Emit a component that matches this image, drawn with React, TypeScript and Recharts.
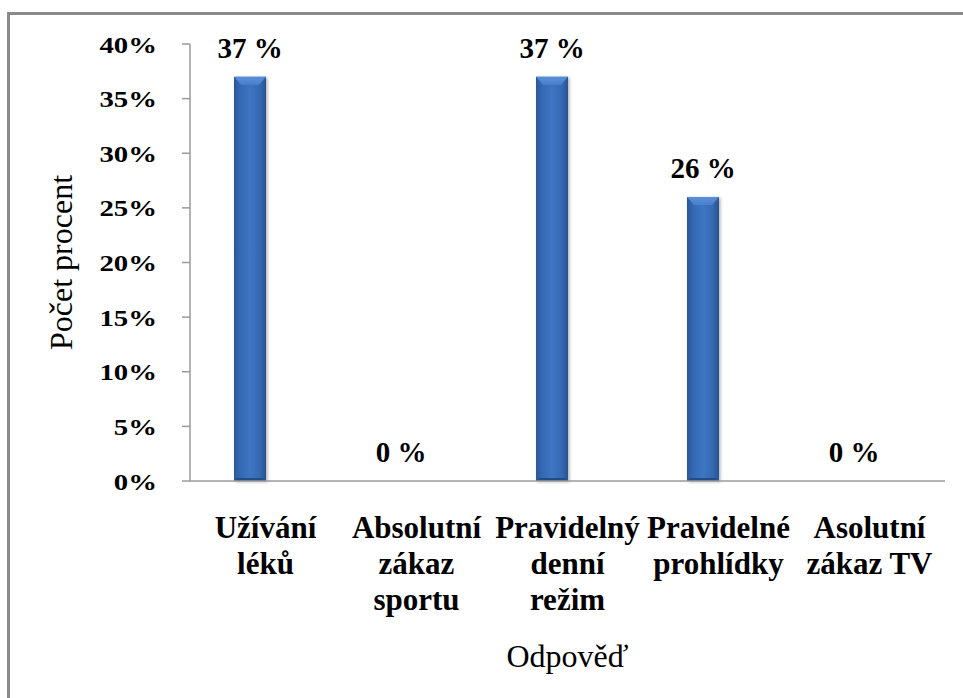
import React from 'react';
import { BarChart, Bar, XAxis, YAxis, LabelList, Label } from 'recharts';

// Answers (line breaks as printed under the axis)
const categories = [
  'Užívání\nléků',
  'Absolutní\nzákaz\nsportu',
  'Pravidelný\ndenní\nrežim',
  'Pravidelné\nprohlídky',
  'Asolutní\nzákaz TV',
];
const percentValues = [37, 0, 37, 26, 0];
const yTicks = [0, 5, 10, 15, 20, 25, 30, 35, 40];

const yAxisTitle = 'Počet procent';
const xAxisTitle = 'Odpověď';

const data = categories.map((name, i) => ({ name, value: percentValues[i] }));

const SERIF = "'Liberation Serif', 'Times New Roman', serif";
const AXIS_GRAY = '#9a9a9a';
const BAR_SIZE = 32;
// bars sit left of the category centre (old two-slot cluster layout)
const BAR_SHIFT = -16;

function CylinderBar(props: any) {
  const { x, y, width, height } = props;
  if (!height || height <= 0) return null;
  const bx = x + BAR_SHIFT;
  const bev = 7;
  return (
    <g filter="url(#barShadow)">
      <rect x={bx} y={y} width={width} height={height} fill="url(#barBody)" />
      <polygon
        points={`${bx},${y} ${bx + width},${y} ${bx + width - bev},${y + bev + 1} ${bx + bev},${y + bev + 1}`}
        fill="url(#barTop)"
      />
      <polygon
        points={`${bx},${y + height} ${bx + width},${y + height} ${bx + width - 3},${y + height - 3} ${bx + 3},${y + height - 3}`}
        fill="#244d86"
      />
    </g>
  );
}

function ValueLabel(props: any) {
  const { x, y, width, value } = props;
  return (
    <text
      x={x + BAR_SHIFT + width / 2}
      y={y - 19}
      textAnchor="middle"
      fontFamily={SERIF}
      fontWeight="bold"
      fontSize={29}
      fill="#000"
    >
      {`${value} %`}
    </text>
  );
}

function CategoryTick(props: any) {
  const { x, y, payload } = props;
  const lines = String(payload.value).split('\n');
  return (
    <g>
      {lines.map((line, i) => (
        <text
          key={i}
          x={x}
          y={y + 57 + i * 36}
          textAnchor="middle"
          fontFamily={SERIF}
          fontWeight="bold"
          fontSize={31}
          fill="#000"
        >
          {line}
        </text>
      ))}
    </g>
  );
}

function PercentTick(props: any) {
  const { x, y, payload } = props;
  return (
    <g transform={`translate(${x},${y + 8.5}) scale(1.2,1)`}>
      <text x={0} y={0} textAnchor="end" fontFamily={SERIF} fontWeight="bold" fontSize={24} fill="#000">
        {`${payload.value}%`}
      </text>
    </g>
  );
}

export default function App() {
  return (
    <div style={{ position: 'fixed', left: 0, top: 0, width: 963, height: 698, overflow: 'hidden', background: '#fff' }}>
      <div
        style={{
          position: 'absolute',
          left: 7,
          top: 12,
          width: 1000,
          height: 1000,
          boxSizing: 'border-box',
          borderTop: '3px solid #8a8a8a',
          borderLeft: '3px solid #8a8a8a',
        }}
      />
      <div style={{ position: 'absolute', left: 0, top: 0 }}>
        <BarChart width={963} height={698} data={data} margin={{ top: 44, right: 18, left: 0, bottom: 0 }}>
          <defs>
            <linearGradient id="barBody" x1="0" y1="0" x2="1" y2="0">
              <stop offset="0%" stopColor="#2a5898" />
              <stop offset="20%" stopColor="#3569b3" />
              <stop offset="50%" stopColor="#3d75c2" />
              <stop offset="80%" stopColor="#3569b3" />
              <stop offset="100%" stopColor="#29548f" />
            </linearGradient>
            <linearGradient id="barTop" x1="0" y1="0" x2="0" y2="1">
              <stop offset="0%" stopColor="#5a8fd8" />
              <stop offset="100%" stopColor="#4a80cc" />
            </linearGradient>
            <filter id="barShadow" x="-30%" y="-5%" width="160%" height="110%">
              <feDropShadow dx="1.5" dy="1" stdDeviation="1.5" floodColor="#000" floodOpacity="0.3" />
            </filter>
          </defs>
          <XAxis
            dataKey="name"
            height={217}
            interval={0}
            tickLine={false}
            tickSize={0}
            tickMargin={0}
            axisLine={{ stroke: AXIS_GRAY, strokeWidth: 1.5 }}
            tick={<CategoryTick />}
          >
            <Label
              content={({ viewBox }: any) => (
                <text
                  x={viewBox.x + viewBox.width / 2}
                  y={viewBox.y + 186}
                  textAnchor="middle"
                  fontFamily={SERIF}
                  fontSize={32}
                  fill="#000"
                >
                  {xAxisTitle}
                </text>
              )}
            />
          </XAxis>
          <YAxis
            width={190}
            domain={[0, 40]}
            ticks={yTicks}
            interval={0}
            tickSize={8}
            tickMargin={25}
            axisLine={{ stroke: AXIS_GRAY, strokeWidth: 1.5 }}
            tickLine={{ stroke: AXIS_GRAY, strokeWidth: 1.5 }}
            tick={<PercentTick />}
          >
            <Label
              content={({ viewBox }: any) => (
                <text
                  transform={`translate(72,${viewBox.y + viewBox.height / 2}) rotate(-90)`}
                  x={0}
                  y={0}
                  textAnchor="middle"
                  fontFamily={SERIF}
                  fontSize={32}
                  fill="#000"
                >
                  {yAxisTitle}
                </text>
              )}
            />
          </YAxis>
          <Bar dataKey="value" barSize={BAR_SIZE} shape={<CylinderBar />} isAnimationActive={false}>
            <LabelList dataKey="value" content={<ValueLabel />} />
          </Bar>
        </BarChart>
      </div>
    </div>
  );
}
